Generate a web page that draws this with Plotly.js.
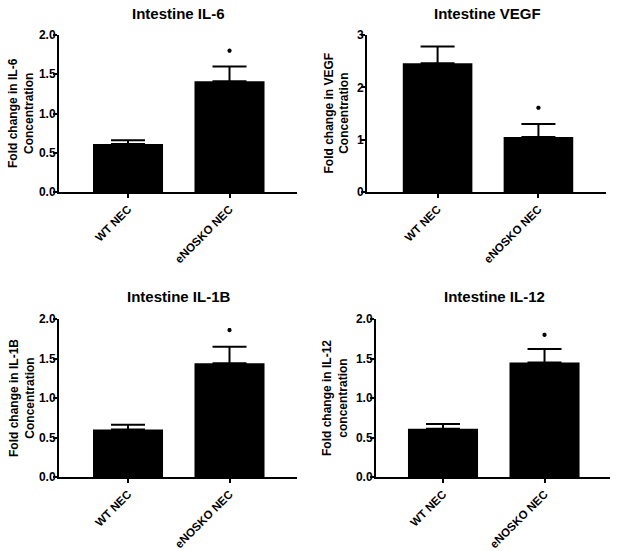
<!DOCTYPE html>
<html>
<head>
<meta charset="utf-8">
<script src="https://cdn.plot.ly/plotly-3.0.1.min.js"></script>
<style>html,body{margin:0;padding:0;background:#fff;}#chart{width:618px;height:551px;}</style>
</head>
<body>
<div id="chart"></div>
<script>
var categories = ["WT NEC", "eNOSKO NEC"];
var panelTitles = ["Intestine IL-6", "Intestine VEGF", "Intestine IL-1B", "Intestine IL-12"];
var yTitles = ["Fold change in IL-6<br>Concentration", "Fold change in VEGF<br>Concentration",
               "Fold change in IL-1B<br>Concentration", "Fold change in IL-12<br>concentration"];
var il6Values = [0.61, 1.41];
var il6Errors = [0.05, 0.19];
var vegfValues = [2.46, 1.05];
var vegfErrors = [0.32, 0.25];
var il1bValues = [0.60, 1.44];
var il1bErrors = [0.06, 0.21];
var il12Values = [0.61, 1.45];
var il12Errors = [0.06, 0.17];
var starY = [1.80, 1.61, 1.86, 1.80];
var yTickVals = [[0, 0.5, 1.0, 1.5, 2.0], [0, 1, 2, 3], [0, 0.5, 1.0, 1.5, 2.0], [0, 0.5, 1.0, 1.5, 2.0]];
var yTickText = [["0.0", "0.5", "1.0", "1.5", "2.0"], ["0", "1", "2", "3"], ["0.0", "0.5", "1.0", "1.5", "2.0"], ["0.0", "0.5", "1.0", "1.5", "2.0"]];
var yMax = [2.0, 3.0, 2.0, 2.0];

var values = [il6Values, vegfValues, il1bValues, il12Values];
var errors = [il6Errors, vegfErrors, il1bErrors, il12Errors];

var W = 618, H = 551;
// pixel boxes [x0, x1, yTop, yBottom]
var boxes = [[59, 297, 35, 192], [367, 606, 35, 192], [59, 297, 319, 477], [376, 610, 319, 477]];
var xRanges = [[-0.68, 1.665], [-0.70, 1.67], [-0.68, 1.665], [-0.66, 1.645]];
var titleCenters = [[178, 13], [487, 13], [179, 296], [494, 296]];
var yTitleX = [20.5, 336, 22, 335];

var FONT = "Liberation Sans, Arial, sans-serif";
var traces = [];
var layout = {
  width: W, height: H,
  margin: {l: 0, r: 0, t: 0, b: 0},
  paper_bgcolor: "#fff", plot_bgcolor: "#fff",
  showlegend: false,
  font: {family: FONT, color: "#000", size: 12, weight: "bold"},
  annotations: []
};

for (var i = 0; i < 4; i++) {
  var sfx = i === 0 ? "" : String(i + 1);
  var xa = "x" + sfx, ya = "y" + sfx;
  traces.push({
    type: "bar", x: categories, y: values[i], xaxis: xa, yaxis: ya,
    width: 0.69,
    marker: {color: "#000", line: {width: 0}},
    error_y: {type: "data", symmetric: false, array: errors[i], arrayminus: [0, 0],
              color: "#000", thickness: 2, width: 17}
  });
  traces.push({
    type: "scatter", mode: "markers", x: [categories[1]], y: [starY[i]], xaxis: xa, yaxis: ya,
    marker: {symbol: "asterisk-open", size: 3.5, color: "#000", line: {color: "#000", width: 1.3}},
    hoverinfo: "skip"
  });
  var b = boxes[i];
  layout["xaxis" + sfx] = {
    domain: [b[0] / W, b[1] / W], anchor: ya, type: "category",
    range: xRanges[i], showgrid: false, zeroline: false,
    showline: true, linecolor: "#000", linewidth: 2,
    ticks: "outside", ticklen: 4, tickwidth: 2, tickcolor: "#000",
    tickangle: -45, tickfont: {family: FONT, size: 11.5, color: "#000", weight: "bold"},
    fixedrange: true
  };
  layout["yaxis" + sfx] = {
    domain: [1 - b[3] / H, 1 - b[2] / H], anchor: xa,
    range: [0, yMax[i]], showgrid: false, zeroline: false,
    showline: true, linecolor: "#000", linewidth: 2,
    ticks: "outside", ticklen: 4, tickwidth: 2, tickcolor: "#000",
    ticklabelstandoff: -5,
    tickvals: yTickVals[i], ticktext: yTickText[i],
    tickfont: {family: FONT, size: 12, color: "#000", weight: "bold"},
    fixedrange: true
  };
  layout.annotations.push({
    text: panelTitles[i], xref: "paper", yref: "paper",
    x: titleCenters[i][0] / W, y: 1 - titleCenters[i][1] / H,
    xanchor: "center", yanchor: "middle", showarrow: false,
    font: {family: FONT, size: 15, color: "#000", weight: "bold"}
  });
  layout.annotations.push({
    text: yTitles[i], xref: "paper", yref: "paper",
    x: yTitleX[i] / W, y: 1 - ((b[2] + b[3]) / 2) / H,
    xanchor: "center", yanchor: "middle", showarrow: false, textangle: -90,
    font: {family: FONT, size: 12, color: "#000", weight: "bold"}
  });
}

Plotly.newPlot("chart", traces, layout, {displayModeBar: false, staticPlot: true});
</script>
</body>
</html>
